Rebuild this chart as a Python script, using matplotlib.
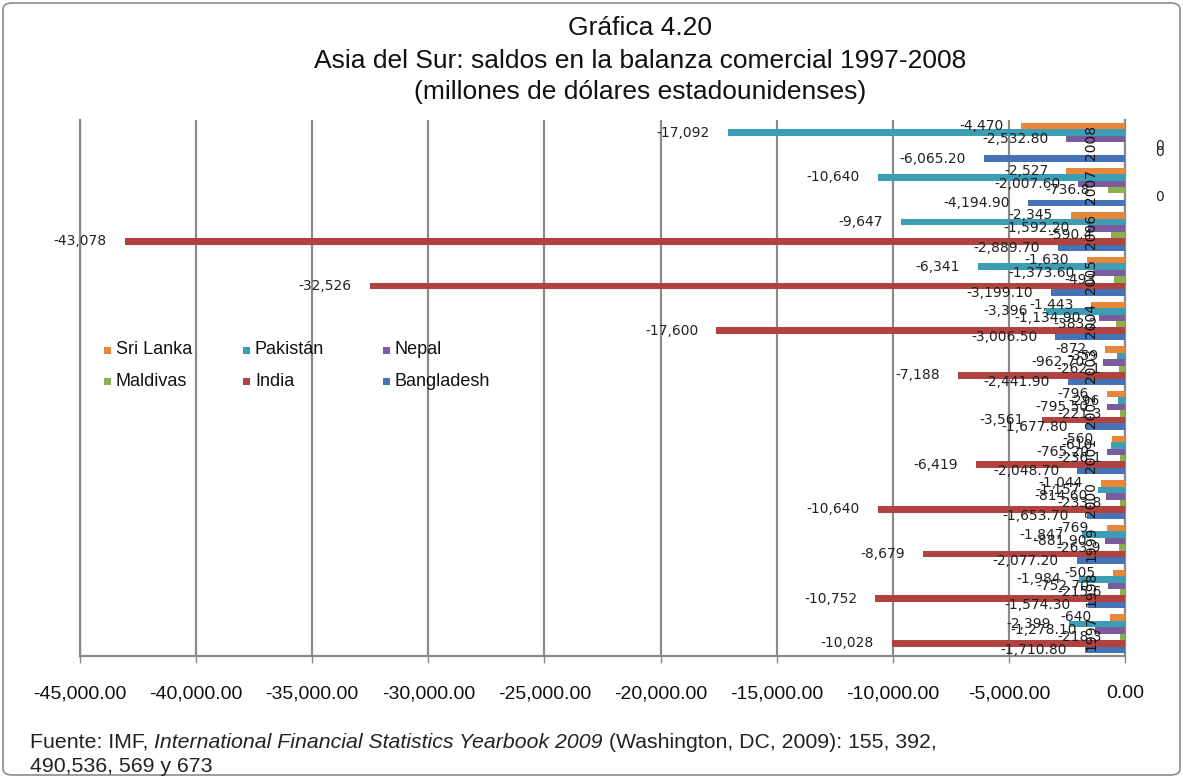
import matplotlib
matplotlib.use("Agg")
import matplotlib.pyplot as plt
from matplotlib.patches import FancyBboxPatch, Rectangle
from matplotlib.ticker import FuncFormatter, MultipleLocator

# ---------------- data ----------------
years = [1997, 1998, 1999, 2000, 2001, 2002, 2003, 2004, 2005, 2006, 2007, 2008]
series_names = ["Sri Lanka", "Pakistán", "Nepal", "Maldivas", "India", "Bangladesh"]
sri_lanka = [-640, -505, -769, -1044, -560, -796, -872, -1443, -1630, -2345, -2527, -4470]
pakistan = [-2399, -1984, -1847, -1157, -610, -296, -359, -3396, -6341, -9647, -10640, -17092]
nepal = [-1278.1, -752.7, -881.9, -814.6, -765.2, -795.5, -962.7, -1134.9, -1373.6, -1592.2, -2007.6, -2532.8]
maldivas = [-218.3, -215.6, -263.9, -233.8, -236.1, -221.3, -262.1, -383.2, -493.0, -590.4, -736.8, 0]
india = [-10028, -10752, -8679, -10640, -6419, -3561, -7188, -17600, -32526, -43078, 0, 0]
bangladesh = [-1710.8, -1574.3, -2077.2, -1653.7, -2048.7, -1677.8, -2441.9, -3006.5, -3199.1, -2889.7, -4194.9, -6065.2]

series_values = [sri_lanka, pakistan, nepal, maldivas, india, bangladesh]
colors = ["#E8873A", "#3C9DB5", "#7A5C9E", "#8CB04F", "#B0423F", "#4673B5"]
label_formats = ["int", "int", "dec2", "gen", "int", "dec2"]

title_lines = ["Gráfica 4.20",
               "Asia del Sur: saldos en la balanza comercial 1997-2008",
               "(millones de dólares estadounidenses)"]


def fmt_label(v, kind):
    if v == 0:
        return "0"
    if kind == "int":
        return "{:,.0f}".format(v)
    if kind == "dec2":
        return "{:,.2f}".format(v)
    return "{:g}".format(v)


# ---------------- figure ----------------
W, H = 1183, 778
fig = plt.figure(figsize=(W / 100, H / 100), dpi=100)
fig.patch.set_facecolor("white")

# outer border
fig.patches.append(FancyBboxPatch((3 / W, 3 / H), (W - 6) / W, (H - 6) / H,
                                  boxstyle="round,pad=0,rounding_size=0.008",
                                  transform=fig.transFigure, fill=False,
                                  edgecolor="#8c8c8c", linewidth=1.2))

ax_l, ax_r, ax_t, ax_b = 80, 1125, 120, 656
ax = fig.add_axes([ax_l / W, (H - ax_b) / H, (ax_r - ax_l) / W, (ax_b - ax_t) / H])
ax.set_facecolor("none")

bar_h = 0.1455
ypos = list(range(len(years)))
for k, (name, vals, col, kind) in enumerate(zip(series_names, series_values, colors, label_formats)):
    off = (2.5 - k) * bar_h
    ys = [y + off for y in ypos]
    ax.barh(ys, vals, height=bar_h, color=col, edgecolor="none", label=name, zorder=3)
    for y, v in zip(ys, vals):
        if v == 0:
            ax.annotate(fmt_label(v, kind), xy=(0, y), xytext=(22, 0), textcoords="offset points",
                        ha="left", va="center", fontsize=10, family="DejaVu Sans",
                        color="#222222", zorder=5, annotation_clip=False)
        else:
            ax.annotate(fmt_label(v, kind), xy=(v, y), xytext=(-13, 0), textcoords="offset points",
                        ha="right", va="center", fontsize=10, family="DejaVu Sans",
                        color="#222222", zorder=5, annotation_clip=False)

# year (category) labels, rotated, near the zero axis
for y, yr in zip(ypos, years):
    ax.annotate(str(yr), xy=(0, y), xytext=(-24.5, 0), textcoords="offset points",
                rotation=90, ha="center", va="center", fontsize=10,
                family="DejaVu Sans", color="#111111", zorder=6, annotation_clip=False)

ax.set_xlim(-45000, 0)
ax.set_ylim(-0.5, len(years) - 0.5)
ax.xaxis.set_major_locator(MultipleLocator(5000))
ax.xaxis.set_major_formatter(FuncFormatter(lambda v, p: "{:,.2f}".format(v if abs(v) > 1e-9 else 0.0)))
ax.set_yticks([])
ax.grid(axis="x", color="#8a8a8a", linewidth=1.6, zorder=0)
ax.tick_params(axis="x", direction="out", length=5, width=1, color="#8a8a8a", pad=16,
               labelsize=14, labelcolor="#111111")
for lab in ax.get_xticklabels():
    lab.set_family("Liberation Sans")
ax.spines["top"].set_visible(False)
for s in ["left", "right", "bottom"]:
    ax.spines[s].set_color("#8a8a8a")
    ax.spines[s].set_linewidth(1.6)

# legend drawn by hand inside the plot area
leg_cols = [104, 243, 383]
leg_rows = [350, 381]
for i, (name, col) in enumerate(zip(series_names, colors)):
    cx = leg_cols[i % 3]
    cy = leg_rows[i // 3]
    fig.patches.append(Rectangle((cx / W, (H - cy - 3.5) / H), 7 / W, 7 / H,
                                 transform=fig.transFigure, facecolor=col, edgecolor="none"))
    fig.text((cx + 12) / W, (H - cy) / H, name, ha="left", va="center",
             fontsize=13, family="Liberation Sans", color="#111111")

# titles
for yy, t in zip([28, 61, 92], title_lines):
    fig.text(640 / W, (H - yy) / H, t, ha="center", va="center", fontsize=19,
             family="Liberation Sans", color="#111111")

# footnote with italic part
renderer = fig.canvas.get_renderer()
x = 30
pieces = [("Fuente: IMF, ", "normal"),
          ("International Financial Statistics Yearbook 2009", "italic"),
          (" (Washington, DC, 2009): 155, 392,", "normal")]
for txt, style in pieces:
    t = fig.text(x / W, (H - 742) / H, txt, ha="left", va="center", fontsize=15.3,
                 family="Liberation Sans", style=style, color="#222222")
    bb = t.get_window_extent(renderer=renderer)
    x += bb.width
fig.text(30 / W, (H - 766) / H, "490,536, 569 y 673", ha="left", va="center", fontsize=15.3,
         family="Liberation Sans", color="#222222")

fig.savefig("out.png", dpi=100)
